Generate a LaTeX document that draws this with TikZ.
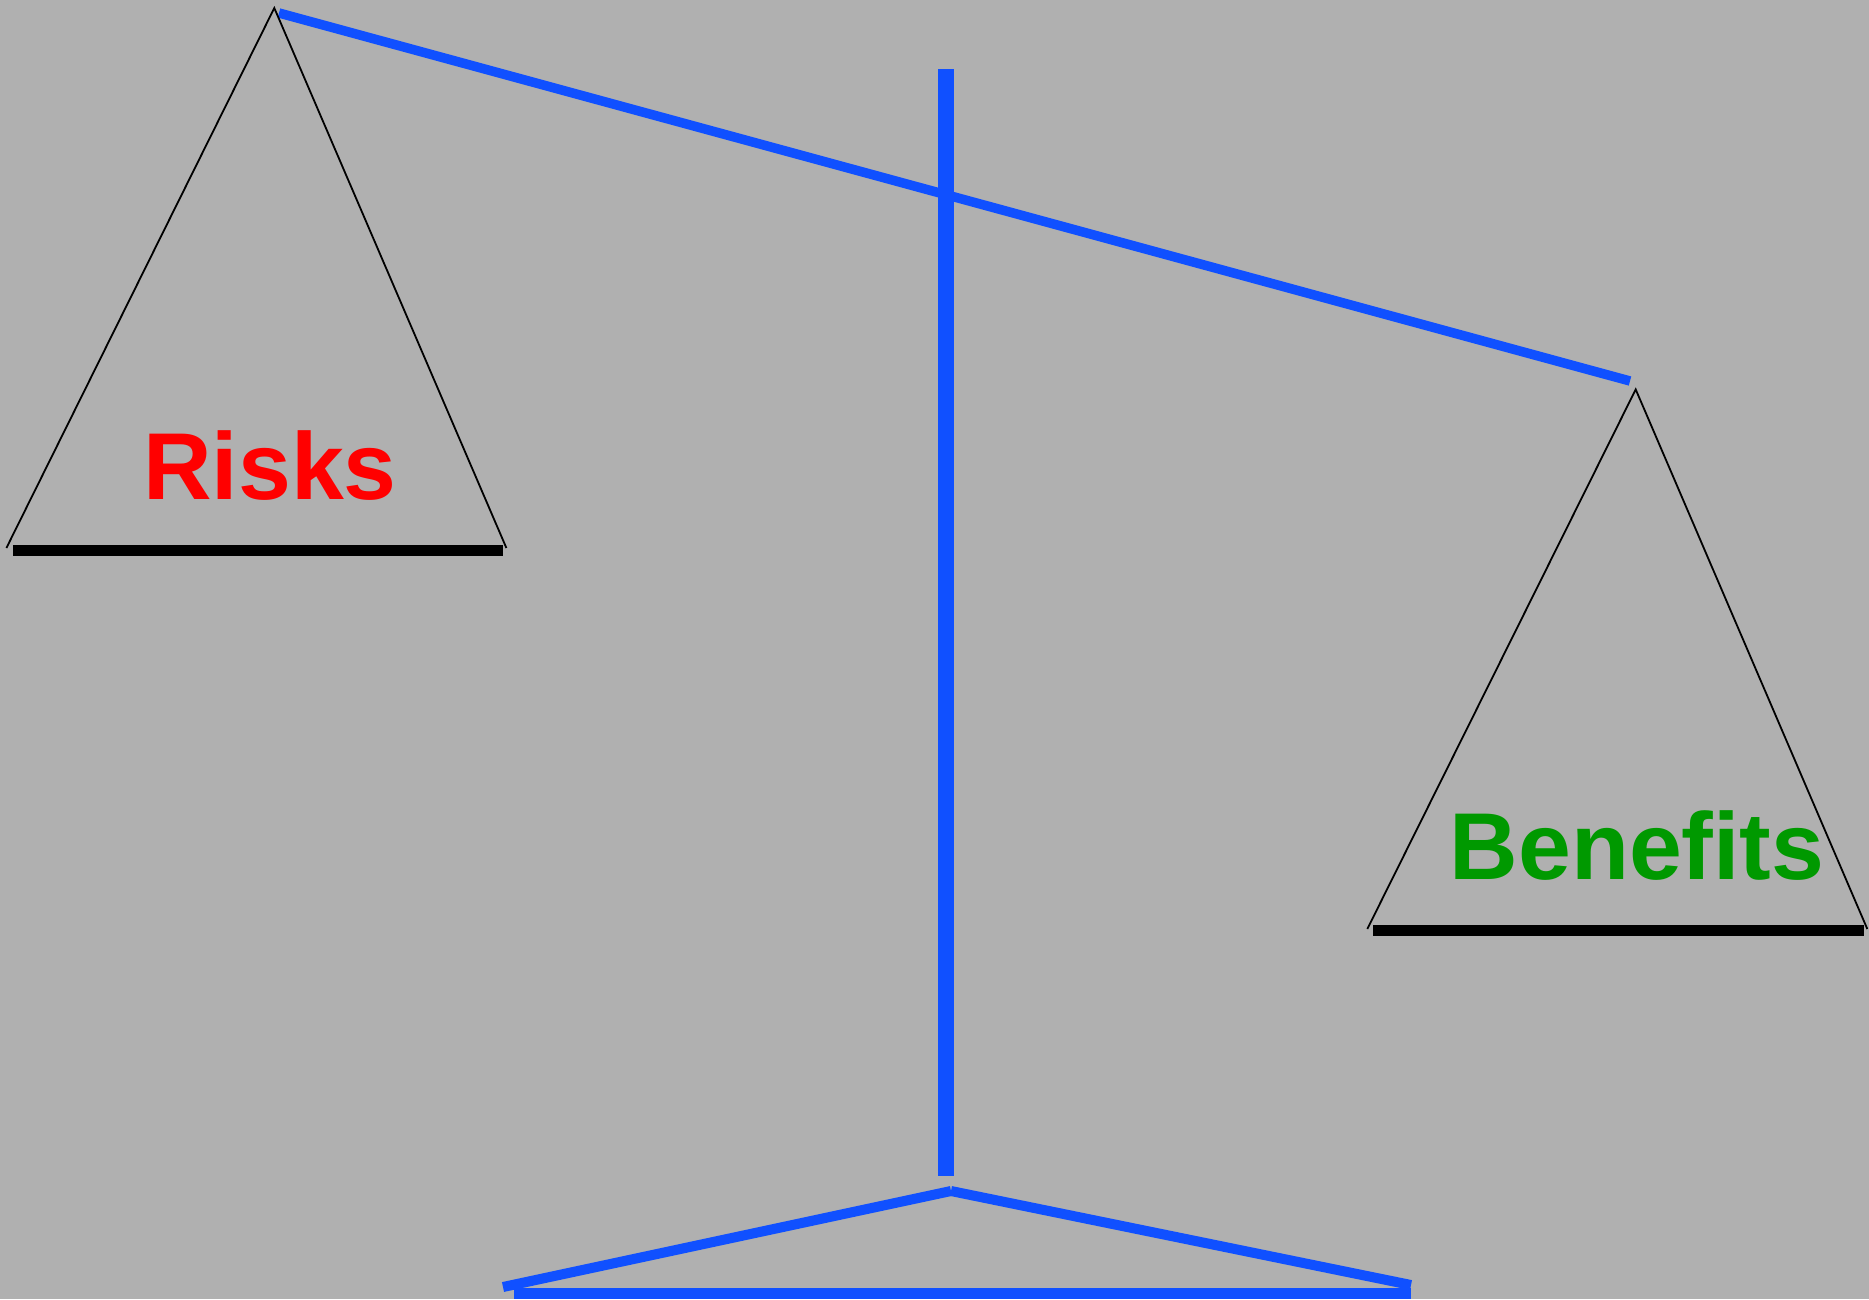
\documentclass[tikz,border=0pt]{standalone}
\usepackage{fontspec}
\setmainfont{Liberation Sans}
\definecolor{bg}{HTML}{B0B0B0}
\definecolor{beamblue}{HTML}{1050FF}
\definecolor{riskred}{HTML}{FF0000}
\definecolor{bengreen}{HTML}{009900}
\tikzset{
  bluebar/.style={draw=beamblue, line width=9.5pt},
  postbar/.style={draw=beamblue, line width=15.3pt},
  cord/.style={draw=black, line width=1.8pt},
  panbar/.style={draw=black, line width=10.5pt},
  panlabel/.style={font=\bfseries\fontsize{95}{95}\selectfont, inner sep=0pt, anchor=base},
}
\begin{document}
\begin{tikzpicture}[x=1pt,y=-1pt]
\fill[bg] (0,0) rectangle (1869,1299);
\useasboundingbox (0,0) rectangle (1869,1299);
% coordinates
\coordinate (beamL) at (279,13);
\coordinate (beamR) at (1630,381);
\coordinate (postT) at (946,69.3);
\coordinate (postB) at (946,1175.7);
\coordinate (lApex) at (274.3,8);
\coordinate (lBL) at (6.4,548);
\coordinate (lBR) at (506.4,548);
\coordinate (lPanL) at (12.9,550.4);
\coordinate (lPanR) at (502.5,550.4);
\coordinate (rApex) at (1635.7,389.4);
\coordinate (rBL) at (1367.3,929);
\coordinate (rBR) at (1867.3,929);
\coordinate (rPanL) at (1373.3,930.5);
\coordinate (rPanR) at (1864,930.5);
\coordinate (baseApex) at (951,1191);
\coordinate (baseL) at (503,1287);
\coordinate (baseR) at (1411,1285);
% beam and post
\draw[bluebar] (beamL) -- (beamR);
\draw[postbar] (postT) -- (postB);
% left pan
\draw[cord] (lBL) -- (lApex) -- (lBR);
\draw[panbar] (lPanL) -- (lPanR);
% right pan
\draw[cord] (rBL) -- (rApex) -- (rBR);
\draw[panbar] (rPanL) -- (rPanR);
% base
\draw[bluebar, line width=10pt] (baseL) -- (baseApex);
\draw[bluebar, line width=10pt] (baseApex) -- (baseR);
\fill[beamblue] (513.7,1288.3) rectangle (1410.8,1299);
% labels
\node[panlabel, text=riskred] (risks) at (270,499.3) {Risks};
\node[panlabel, text=bengreen] (benefits) at (1637,879.3) {Benefits};
\end{tikzpicture}
\end{document}
